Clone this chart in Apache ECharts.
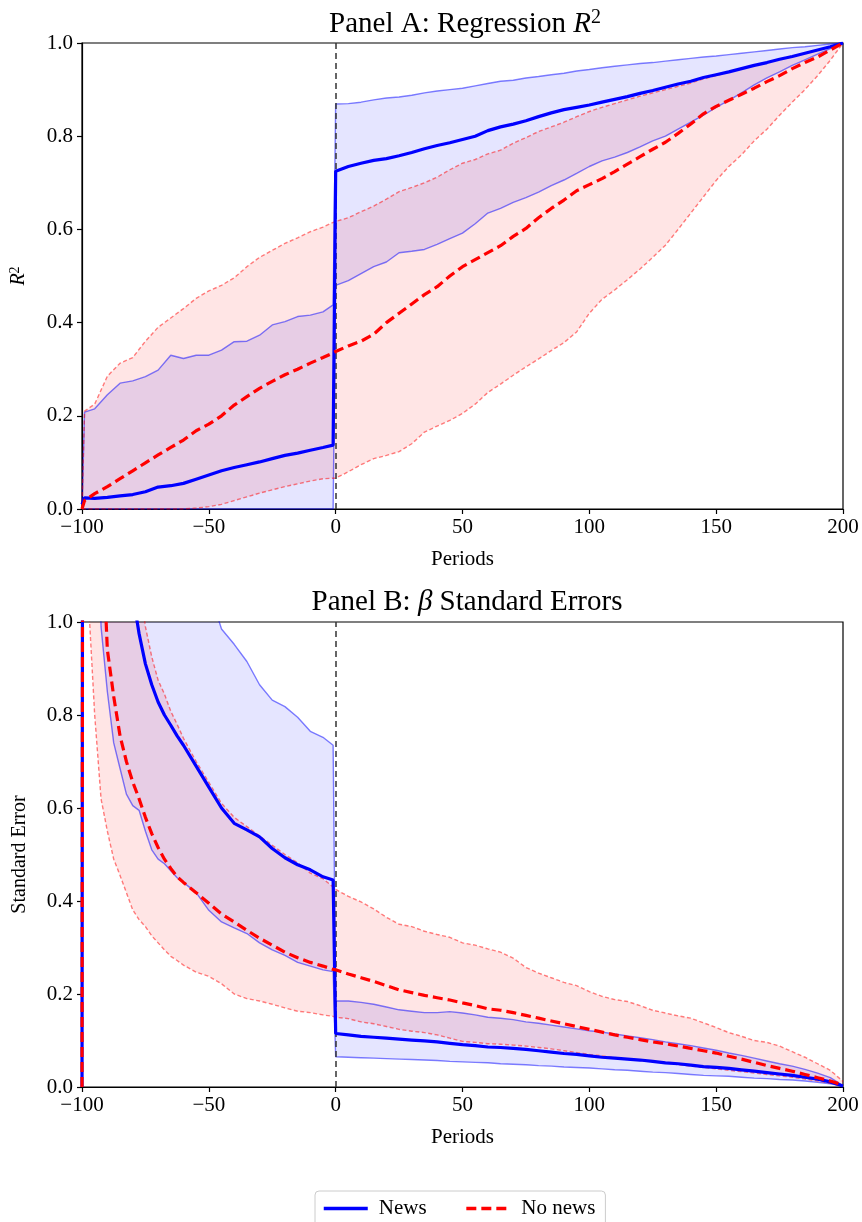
<!DOCTYPE html>
<html>
<head>
<meta charset="utf-8">
<script src="https://cdn.jsdelivr.net/npm/echarts@6/dist/echarts.min.js"></script>
<style>
  html, body { margin: 0; padding: 0; background: #fff; }
  #main { width: 862px; height: 1222px; }
</style>
</head>
<body>
<div id="main"></div>
<script>
// ---- Panel A: regression R^2 ----
var xA = [-100,-99,-95,-90,-85,-80,-75,-70,-65,-60,-55,-50,-45,-40,-35,-30,-25,-20,-15,-10,-5,-1,
  0,5,10,15,20,25,30,35,40,45,50,55,60,65,70,75,80,85,90,95,100,105,110,115,120,125,130,135,140,145,150,155,160,165,170,175,180,185,190,195,200];

var aNewsMean = [0.01,0.024,0.023,0.025,0.028,0.031,0.037,0.047,0.05,0.055,0.064,0.073,0.082,0.089,0.095,0.101,0.108,0.115,0.12,0.126,0.132,0.137,
  0.725,0.735,0.742,0.748,0.752,0.758,0.765,0.773,0.78,0.786,0.793,0.80,0.812,0.82,0.826,0.833,0.842,0.85,0.857,0.862,0.867,0.873,0.879,0.885,0.892,0.898,0.905,0.912,0.918,0.926,0.932,0.938,0.945,0.952,0.958,0.965,0.971,0.978,0.985,0.992,1.0];
var aNewsHi = [0,0.208,0.215,0.245,0.27,0.275,0.284,0.298,0.33,0.323,0.33,0.33,0.341,0.359,0.36,0.373,0.395,0.402,0.413,0.416,0.423,0.438,
  0.869,0.87,0.873,0.878,0.882,0.884,0.888,0.893,0.897,0.9,0.903,0.908,0.913,0.918,0.92,0.925,0.928,0.932,0.935,0.94,0.943,0.947,0.95,0.953,0.956,0.958,0.961,0.964,0.967,0.97,0.972,0.975,0.978,0.981,0.984,0.987,0.99,0.992,0.995,0.998,1.0];
var aNewsLo = [0,0,0,0,0,0,0,0,0,0,0,0,0,0,0,0,0,0,0,0,0,0,
  0.48,0.49,0.505,0.52,0.53,0.55,0.553,0.557,0.568,0.58,0.592,0.612,0.635,0.645,0.658,0.668,0.68,0.694,0.706,0.72,0.735,0.747,0.755,0.765,0.777,0.79,0.8,0.815,0.83,0.845,0.862,0.877,0.893,0.91,0.925,0.938,0.952,0.964,0.976,0.988,1.0];
var aNoMean = [0,0.018,0.033,0.048,0.065,0.082,0.099,0.116,0.132,0.148,0.168,0.182,0.2,0.223,0.241,0.259,0.274,0.288,0.3,0.313,0.325,0.335,
  0.338,0.35,0.36,0.375,0.4,0.42,0.44,0.46,0.477,0.5,0.52,0.535,0.55,0.565,0.585,0.602,0.625,0.645,0.663,0.683,0.696,0.709,0.724,0.74,0.756,0.772,0.787,0.806,0.826,0.848,0.864,0.877,0.89,0.903,0.917,0.93,0.945,0.958,0.97,0.985,1.0];
var aNoHi = [0,0.21,0.225,0.285,0.313,0.325,0.36,0.39,0.41,0.43,0.452,0.468,0.48,0.496,0.52,0.54,0.555,0.57,0.582,0.595,0.605,0.615,
  0.617,0.625,0.638,0.65,0.665,0.681,0.69,0.7,0.712,0.728,0.742,0.75,0.762,0.77,0.785,0.797,0.81,0.82,0.83,0.842,0.853,0.862,0.87,0.878,0.886,0.893,0.9,0.907,0.914,0.923,0.93,0.938,0.945,0.952,0.958,0.965,0.972,0.978,0.985,0.992,1.0];
var aNoLo = [0,0,0,0,0,0,0,0,0,0,0.002,0.005,0.01,0.018,0.026,0.034,0.041,0.048,0.054,0.06,0.065,0.066,
  0.066,0.08,0.095,0.108,0.115,0.123,0.14,0.165,0.178,0.19,0.205,0.225,0.25,0.268,0.287,0.305,0.322,0.34,0.357,0.38,0.42,0.45,0.47,0.492,0.515,0.54,0.566,0.6,0.635,0.67,0.705,0.735,0.76,0.79,0.815,0.845,0.873,0.9,0.93,0.963,1.0];

// ---- Panel B: beta standard errors ----
var xB = [-100,-99,-97,-95,-92.5,-90,-87.5,-85,-82.5,-80,-77.5,-75,-72.5,-70,-67.5,-65,-62.5,-60,-55,-50,-45,-40,-35,-30,-25,-20,-15,-10,-5,-1,
  0,5,10,15,20,25,30,35,40,45,50,55,60,65,70,75,80,85,90,95,100,105,110,115,120,125,130,135,140,145,150,155,160,165,170,175,180,185,190,195,200];

var bNewsMean = [0,6,4.5,3.5,2.6,2,1.6,1.35,1.18,1.06,0.975,0.91,0.865,0.828,0.8,0.778,0.755,0.735,0.69,0.645,0.6,0.567,0.553,0.538,0.513,0.493,0.478,0.467,0.452,0.445,
  0.115,0.112,0.109,0.107,0.105,0.103,0.101,0.099,0.097,0.094,0.091,0.089,0.086,0.085,0.083,0.081,0.078,0.075,0.072,0.07,0.067,0.064,0.062,0.06,0.058,0.055,0.052,0.05,0.047,0.044,0.042,0.04,0.037,0.034,0.031,0.028,0.025,0.021,0.017,0.011,0.002];
var bNewsHi = [0,8,6,5,4.3,3.8,3.4,3.1,2.8,2.5,2.3,2.1,1.95,1.8,1.65,1.55,1.45,1.35,1.2,1.07,0.985,0.952,0.915,0.865,0.832,0.818,0.795,0.765,0.752,0.735,
  0.185,0.185,0.182,0.178,0.172,0.166,0.163,0.16,0.16,0.162,0.159,0.155,0.15,0.148,0.145,0.14,0.137,0.133,0.129,0.125,0.121,0.118,0.114,0.11,0.106,0.102,0.097,0.093,0.089,0.084,0.079,0.073,0.068,0.062,0.056,0.05,0.045,0.038,0.03,0.02,0.003];
var bNewsLo = [0,4,2.5,1.6,0.99,0.85,0.74,0.685,0.63,0.605,0.595,0.55,0.51,0.49,0.48,0.465,0.45,0.44,0.418,0.38,0.355,0.342,0.33,0.31,0.295,0.283,0.268,0.26,0.252,0.248,
  0.065,0.064,0.063,0.062,0.061,0.06,0.059,0.058,0.057,0.055,0.054,0.053,0.052,0.05,0.049,0.048,0.046,0.045,0.043,0.042,0.041,0.039,0.037,0.036,0.034,0.032,0.031,0.029,0.027,0.025,0.024,0.023,0.021,0.019,0.018,0.016,0.015,0.013,0.01,0.007,0.002];
var bNoMean = [0,5,3,2,1.25,0.94,0.84,0.755,0.7,0.656,0.62,0.58,0.545,0.515,0.49,0.47,0.452,0.44,0.418,0.395,0.372,0.355,0.337,0.32,0.305,0.29,0.278,0.268,0.26,0.253,
  0.252,0.243,0.235,0.227,0.218,0.209,0.203,0.197,0.192,0.187,0.181,0.175,0.168,0.165,0.16,0.154,0.148,0.142,0.136,0.13,0.124,0.118,0.112,0.107,0.102,0.097,0.093,0.088,0.083,0.078,0.073,0.066,0.06,0.053,0.046,0.04,0.034,0.027,0.02,0.013,0.004];
var bNoHi = [0,9,7,5,3.8,3,2.4,1.9,1.5,1.25,1.09,0.99,0.925,0.875,0.845,0.808,0.78,0.75,0.7,0.655,0.61,0.58,0.56,0.54,0.52,0.5,0.482,0.46,0.448,0.43,
  0.425,0.41,0.398,0.383,0.365,0.35,0.345,0.335,0.328,0.322,0.31,0.305,0.297,0.29,0.277,0.257,0.245,0.235,0.225,0.218,0.205,0.195,0.188,0.184,0.175,0.165,0.159,0.153,0.148,0.138,0.128,0.117,0.109,0.1,0.096,0.088,0.076,0.064,0.05,0.036,0.012];
var bNoLo = [0,3,1.0,0.8,0.62,0.55,0.49,0.455,0.418,0.381,0.36,0.345,0.325,0.31,0.295,0.281,0.272,0.262,0.247,0.238,0.222,0.2,0.19,0.185,0.178,0.17,0.163,0.16,0.155,0.152,
  0.15,0.147,0.14,0.136,0.13,0.124,0.12,0.117,0.112,0.105,0.098,0.096,0.093,0.092,0.09,0.088,0.085,0.082,0.078,0.074,0.07,0.067,0.063,0.06,0.057,0.055,0.052,0.048,0.045,0.042,0.039,0.036,0.033,0.03,0.027,0.024,0.021,0.017,0.013,0.008,0.002];

var FONT = 'Liberation Serif';
var BLUE = '#0000ff', RED = '#ff0000';

function pairs(xs, ys) {
    return xs.map(function (x, i) { return [x, ys[i]]; });
}

// shaded band between lo and hi, drawn through the axis scales
function band(idx, xs, lo, hi, fill) {
    return {
        type: 'custom',
        xAxisIndex: idx, yAxisIndex: idx,
        silent: true, clip: true, z: 1,
        data: [[xs[0], lo[0]]],
        renderItem: function (params, api) {
            var pts = [];
            for (var i = 0; i < xs.length; i++) pts.push(api.coord([xs[i], hi[i]]));
            for (var j = xs.length - 1; j >= 0; j--) pts.push(api.coord([xs[j], lo[j]]));
            var cs = params.coordSys;
            return {
                type: 'polygon',
                shape: { points: pts },
                style: { fill: fill },
                clipPath: { type: 'rect', shape: { x: cs.x, y: cs.y, width: cs.width, height: cs.height } }
            };
        }
    };
}

function line(idx, name, xs, ys, color, width, dash, z) {
    var s = {
        type: 'line',
        xAxisIndex: idx, yAxisIndex: idx,
        data: pairs(xs, ys),
        symbol: 'none',
        clip: true,
        silent: true,
        z: z,
        lineStyle: { color: color, width: width, type: dash },
        itemStyle: { color: color }
    };
    if (name) s.name = name;
    return s;
}

function vline() {
    return {
        silent: true, symbol: 'none',
        label: { show: false },
        lineStyle: { color: '#333', type: [6, 4], width: 1.5 },
        data: [{ xAxis: 0 }]
    };
}

var grids = [
    { left: 82, top: 43, width: 761, height: 466 },
    { left: 82, top: 622, width: 761, height: 465 }
];

function xAxisFor(i) {
    return {
        type: 'value', gridIndex: i, min: -100, max: 200, interval: 50,
        name: 'Periods', nameLocation: 'middle', nameGap: 40,
        nameTextStyle: { fontFamily: FONT, fontSize: 21, color: '#000' },
        axisLine: { onZero: false, lineStyle: { color: '#000', width: 1.2 } },
        axisTick: { length: 5, lineStyle: { color: '#000', width: 1.2 } },
        axisLabel: {
            fontFamily: FONT, fontSize: 21, color: '#000', margin: 8,
            formatter: function (v) { return String(v).replace('-', '\u2212'); }
        },
        splitLine: { show: false }
    };
}

function yAxisFor(i, name, rich) {
    return {
        type: 'value', gridIndex: i, min: 0, max: 1, interval: 0.2,
        name: name, nameLocation: 'middle', nameGap: 52, nameRotate: 90,
        nameTextStyle: { fontFamily: FONT, fontSize: 20, color: '#000', rich: rich },
        axisLine: { onZero: false, lineStyle: { color: '#000', width: 1.2 } },
        axisTick: { length: 5, lineStyle: { color: '#000', width: 1.2 } },
        axisLabel: {
            fontFamily: FONT, fontSize: 21, color: '#000', margin: 9,
            formatter: function (v) { return v.toFixed(1); }
        },
        splitLine: { show: false }
    };
}

var titleRich = {
    i: { fontFamily: FONT, fontSize: 29, fontStyle: 'italic', color: '#000' },
    s: { fontFamily: FONT, fontSize: 20, color: '#000', padding: [0, 0, 12, 0] }
};
var nameRich = {
    i: { fontFamily: FONT, fontSize: 20, fontStyle: 'italic', color: '#000' },
    s: { fontFamily: FONT, fontSize: 14, color: '#000', padding: [0, 0, 8, 0] }
};

var chart = echarts.init(document.getElementById('main'));

var series = [
    band(0, xA, aNewsLo, aNewsHi, 'rgba(0,0,255,0.1)'),
    band(0, xA, aNoLo, aNoHi, 'rgba(255,0,0,0.1)'),
    line(0, null, xA, aNewsHi, 'rgba(0,0,255,0.5)', 1.4, 'solid', 3),
    line(0, null, xA, aNewsLo, 'rgba(0,0,255,0.5)', 1.4, 'solid', 3),
    line(0, null, xA, aNoHi, 'rgba(255,0,0,0.5)', 1.4, [4, 2.5], 3),
    line(0, null, xA, aNoLo, 'rgba(255,0,0,0.5)', 1.4, [4, 2.5], 3),
    line(0, 'News', xA, aNewsMean, BLUE, 3.2, 'solid', 5),
    line(0, 'No news', xA, aNoMean, RED, 3.2, [10, 5], 6),

    band(1, xB, bNewsLo, bNewsHi, 'rgba(0,0,255,0.1)'),
    band(1, xB, bNoLo, bNoHi, 'rgba(255,0,0,0.1)'),
    line(1, null, xB, bNewsHi, 'rgba(0,0,255,0.5)', 1.4, 'solid', 3),
    line(1, null, xB, bNewsLo, 'rgba(0,0,255,0.5)', 1.4, 'solid', 3),
    line(1, null, xB, bNoHi, 'rgba(255,0,0,0.5)', 1.4, [4, 2.5], 3),
    line(1, null, xB, bNoLo, 'rgba(255,0,0,0.5)', 1.4, [4, 2.5], 3),
    line(1, 'News', xB, bNewsMean, BLUE, 3.2, 'solid', 5),
    line(1, 'No news', xB, bNoMean, RED, 3.2, [10, 5], 6)
];
series[2].markLine = vline();
series[10].markLine = vline();

var option = {
    animation: false,
    backgroundColor: '#fff',
    title: [
        {
            text: 'Panel A: Regression {i|R}{s|2}',
            left: 460, top: 3, textAlign: 'center',
            textStyle: { fontFamily: FONT, fontSize: 29, fontWeight: 'normal', color: '#000', rich: titleRich }
        },
        {
            text: 'Panel B: {i|\u03b2} Standard Errors',
            left: 462, top: 583, textAlign: 'center',
            textStyle: { fontFamily: FONT, fontSize: 29, fontWeight: 'normal', color: '#000', rich: titleRich }
        }
    ],
    legend: {
        data: ['News', 'No news'],
        left: 315, top: 1191,
        itemWidth: 44, itemHeight: 14, itemGap: 38,
        padding: [7, 10, 12, 7],
        itemStyle: { opacity: 0 },
        lineStyle: { width: 3.5 },
        borderColor: '#cccccc', borderWidth: 1, borderRadius: 4,
        textStyle: { fontFamily: FONT, fontSize: 21, color: '#000', padding: [0, 0, 0, 6] }
    },
    grid: grids.map(function (g) {
        return { left: g.left, top: g.top, width: g.width, height: g.height, show: true, borderColor: '#000', borderWidth: 1.2, backgroundColor: 'transparent' };
    }),
    xAxis: [xAxisFor(0), xAxisFor(1)],
    yAxis: [yAxisFor(0, '{i|R}{s|2}', nameRich), yAxisFor(1, 'Standard Error', nameRich)],
    series: series
};

chart.setOption(option);
</script>
</body>
</html>
